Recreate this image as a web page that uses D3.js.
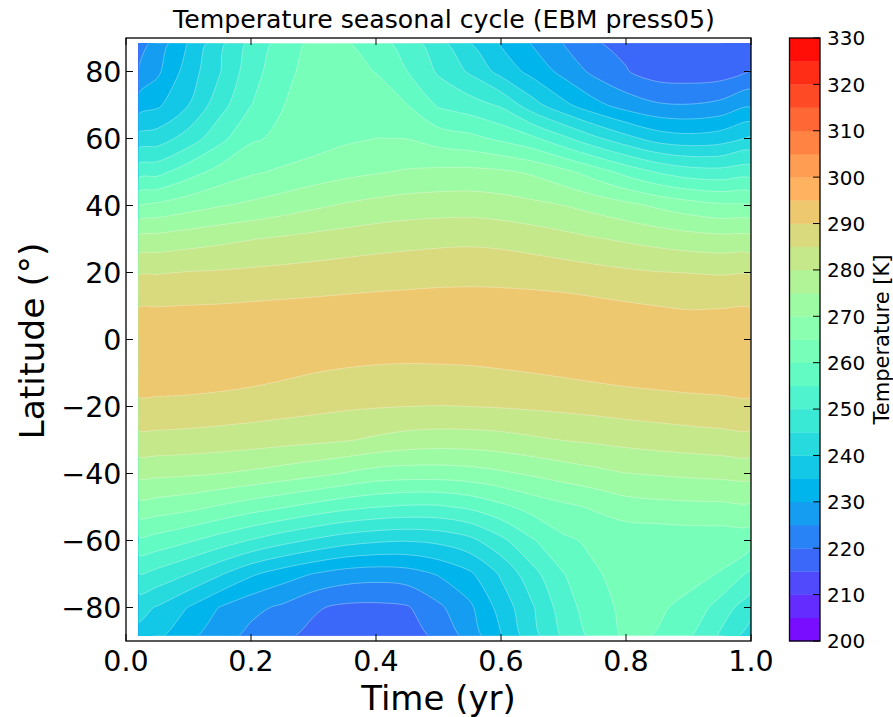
<!DOCTYPE html>
<html><head><meta charset="utf-8">
<script src="https://cdn.jsdelivr.net/npm/d3@7"></script>
<style>
body{margin:0;background:#fff}
svg{display:block}
text{font-family:"DejaVu Sans","Liberation Sans",sans-serif;fill:#000}
</style>
</head><body>
<svg id="chart" width="893" height="717"></svg>
<script>
// ---- data ----
const times = [0.02,0.05,0.10,0.15,0.20,0.25,0.30,0.35,0.40,0.45,0.50,0.55,0.60,0.65,0.70,0.75,0.80,0.85,0.90,0.95,1.00];
const lats = [88.5,80,70,60,50,40,30,20,10,0,-10,-20,-30,-40,-50,-60,-70,-80,-88.5];
// temperature [K] per latitude row, one value per time
const row88N = [222.5,226.8,235.2,243.6,251.4,256.9,261.2,260.6,257.1,252.7,246.8,240.0,234.5,229.6,224.8,220.3,218.8,217.3,216.8,216.9,217.5];
const row80N = [225.3,229.0,237.4,244.7,253.0,258.2,262.3,262.0,259.8,255.0,249.3,244.3,238.3,233.4,228.5,223.7,220.3,217.6,217.2,217.5,220.2];
const row70N = [232.5,234.1,240.0,248.0,254.9,259.8,262.8,263.2,263.2,260.1,254.4,252.3,249.3,242.0,236.3,231.5,227.8,225.6,225.2,226.3,229.1];
const row60N = [241.7,242.5,247.2,253.5,259.3,261.0,262.4,264.1,265.05,264.9,262.8,261.4,259.0,256.1,251.2,246.1,241.7,237.9,236.7,237.6,240.7];
const row50N = [252.9,253.4,257.9,261.8,264.3,265.8,267.3,268.6,269.6,270.5,271.1,271.3,270.8,269.3,266.4,262.6,258.4,254.7,252.3,251.7,252.4];
const row40N = [265.1,266.1,268.0,269.7,271.0,272.5,274.1,275.5,276.6,277.4,277.7,277.8,277.2,276.2,275.0,273.3,271.4,269.2,267.3,265.9,265.3];
const row30N = [276.4,276.8,277.8,278.8,279.8,280.7,281.5,282.2,282.9,283.4,283.8,284.0,283.6,282.7,281.6,280.4,279.3,278.2,277.2,276.6,276.4];
const row20N = [284.5,284.7,285.2,285.5,285.9,286.3,286.7,287.2,287.6,287.9,288.2,288.3,288.2,287.8,287.2,286.5,285.8,285.2,284.9,284.6,284.5];
const row10N = [289.8,289.9,290.1,290.3,290.6,290.9,291.2,291.5,291.8,292.0,292.2,292.3,292.2,292.1,291.9,291.3,290.6,290.0,289.6,289.7,289.7];
const row00  = [293.5,293.5,293.6,293.7,293.8,293.9,294.0,294.0,294.0,294.0,293.9,293.8,293.7,293.6,293.5,293.4,293.3,293.2,293.2,293.3,293.4];
const row10S = [293.3,293.3,293.0,292.5,291.8,290.9,290.0,289.3,288.7,288.4,288.6,288.9,289.5,290.0,290.6,291.3,291.9,292.4,292.8,293.1,293.4];
const row20S = [288.6,288.6,288.4,288.0,287.5,286.9,286.3,285.7,285.3,285.0,284.9,285.0,285.3,285.7,286.1,286.6,287.2,287.6,288.1,288.4,288.6];
const row30S = [283.5,283.5,283.2,282.8,282.3,281.7,281.1,280.4,279.2,278.1,277.6,277.7,278.2,279.2,280.1,280.8,281.5,282.2,282.7,283.2,283.4];
const row40S = [276.3,276.1,275.7,275.0,274.1,272.8,271.4,269.7,268.0,267.4,267.4,268.0,269.2,270.7,272.2,273.6,274.9,275.4,275.9,276.3,276.5];
const row50S = [268.1,267.6,266.4,264.4,262.3,260.4,258.3,256.4,255.1,254.3,254.3,255.9,258.8,261.8,263.9,265.6,267.7,268.4,268.7,268.8,268.9];
const row60S = [259.0,258.0,255.6,252.7,249.7,246.8,244.3,242.1,240.8,240.3,241.2,243.6,248.7,254.5,259.1,261.0,261.5,261.6,262.0,262.0,262.0];
const row70S = [249.9,248.4,245.0,240.6,235.8,232.5,229.8,227.8,227.1,227.8,230.4,234.1,240.7,248.3,254.8,259.5,261.6,261.2,261.2,259.8,253.8];
const row80S = [241.7,239.6,234.8,229.8,226.4,224.1,220.6,219.0,218.8,219.5,224.0,229.0,236.9,244.4,252.6,258.0,261.2,260.6,259.0,252.9,246.8];
const row88S = [238.5,236.0,231.2,226.9,223.6,220.8,218.8,217.6,217.3,218.0,220.9,226.8,234.8,242.9,250.8,256.5,260.8,259.8,255.6,249.4,242.0];

const levels = d3.range(200, 331, 5);          // contour levels 200..330
const xTicks = [0.0,0.2,0.4,0.6,0.8,1.0];
const yTicks = [-80,-60,-40,-20,0,20,40,60,80];
const cbTicks = d3.range(200, 331, 10);
const titleText = "Temperature seasonal cycle (EBM press05)";
const xLabel = "Time (yr)";
const yLabel = "Latitude (°)";
const cbLabel = "Temperature [K]";

// ---- layout ----
const grid = [row88N,row80N,row70N,row60N,row50N,row40N,row30N,row20N,row10N,row00,
              row10S,row20S,row30S,row40S,row50S,row60S,row70S,row80S,row88S];
const P = {left:126, right:751, top:38, bottom:641};
const CB = {left:789.5, right:820};
const svg = d3.select("#chart");
const x = d3.scaleLinear().domain([0,1]).range([P.left,P.right]);
const y = d3.scaleLinear().domain([-90,90]).range([P.bottom,P.top]);
const cbY = d3.scaleLinear().domain([200,330]).range([P.bottom,P.top]);

// matplotlib "rainbow" colormap (256-entry LUT), band colour from layer midpoint
function rainbow(v){
  const c = t => Math.max(0, Math.min(1, t));
  return d3.rgb(255*c(Math.abs(2*v-0.5)), 255*c(Math.sin(Math.PI*v)), 255*c(Math.cos(Math.PI*v/2)));
}
function bandColor(lo){
  const xn = (lo + 2.5 - 200) / 130;
  const i = Math.max(0, Math.min(255, Math.floor(xn*256)));
  return rainbow(i/255).toString();
}

// ---- filled contours ----
const nx = times.length, ny = lats.length;
const values = grid.flat();
const thr = levels.slice(0, -1);
const cont = d3.contours().size([nx, ny]).thresholds(thr)(values);
const ti = d3.scaleLinear().domain(d3.range(nx)).range(times).clamp(true);
const li = d3.scaleLinear().domain(d3.range(ny)).range(lats).clamp(true);
const lineGen = d3.line().curve(d3.curveCatmullRomClosed.alpha(0.5));
function ringPath(ring){
  const pts = [];
  for (const [px, py] of ring) {
    const p = [x(ti(px - 0.5)), y(li(py - 0.5))];
    const q = pts[pts.length - 1];
    if (!q || Math.hypot(q[0]-p[0], q[1]-p[1]) > 0.05) pts.push(p);
  }
  if (pts.length > 1) {
    const f = pts[0], l = pts[pts.length - 1];
    if (Math.hypot(f[0]-l[0], f[1]-l[1]) < 0.05) pts.pop();
  }
  return pts.length > 2 ? lineGen(pts) : "";
}
const contourPath = c => c.coordinates.map(poly => poly.map(ringPath).join("")).join("");

const x0 = x(times[0]), x1 = x(times[nx-1]), y0 = y(lats[0]), y1 = y(lats[ny-1]);
const defs = svg.append("defs");
defs.append("clipPath").attr("id","data").append("rect")
  .attr("x", x0).attr("y", y0).attr("width", x1-x0).attr("height", y1-y0);
defs.append("clipPath").attr("id","inner").append("rect")
  .attr("x", x0+0.8).attr("y", y0+0.8).attr("width", x1-x0-1.6).attr("height", y1-y0-1.6);

const g = svg.append("g").attr("clip-path","url(#data)");
g.selectAll("path.band").data(cont).join("path")
  .attr("class","band")
  .attr("d", contourPath)
  .attr("fill-rule","evenodd")
  .attr("fill", d => bandColor(d.value))
  .attr("stroke", d => bandColor(d.value))
  .attr("stroke-width", 0.3);

// faint seams between bands (as antialiasing seams in the original)
svg.append("g").attr("clip-path","url(#inner)")
  .selectAll("path").data(cont.slice(1)).join("path")
  .attr("d", contourPath).attr("fill","none")
  .attr("stroke","rgba(255,255,255,0.45)").attr("stroke-width",0.7);

// ---- frame & ticks ----
const ax = svg.append("g").attr("stroke","#000");
xTicks.forEach(t => {
  ax.append("line").attr("x1",x(t)).attr("x2",x(t)).attr("y1",P.bottom).attr("y2",P.bottom-7).attr("stroke-width",1);
  ax.append("line").attr("x1",x(t)).attr("x2",x(t)).attr("y1",P.top).attr("y2",P.top+7).attr("stroke-width",1);
});
yTicks.forEach(v => {
  ax.append("line").attr("x1",P.left).attr("x2",P.left+7).attr("y1",y(v)).attr("y2",y(v)).attr("stroke-width",1);
  ax.append("line").attr("x1",P.right).attr("x2",P.right-7).attr("y1",y(v)).attr("y2",y(v)).attr("stroke-width",1);
});
svg.append("rect").attr("x",P.left).attr("y",P.top).attr("width",P.right-P.left).attr("height",P.bottom-P.top)
  .attr("fill","none").attr("stroke","#000").attr("stroke-width",1.3);

const fmtX = d3.format(".1f");
svg.append("g").selectAll("text").data(xTicks).join("text")
  .attr("x", d => x(d)).attr("y", 671).attr("text-anchor","middle")
  .style("font-size","28.5px").text(d => fmtX(d));
svg.append("g").selectAll("text").data(yTicks).join("text")
  .attr("x", 121.5).attr("y", d => y(d) + 10.5).attr("text-anchor","end")
  .style("font-size","28.5px").text(d => (d < 0 ? "\u2212" + Math.abs(d) : String(d)));

svg.append("text").attr("x",444).attr("y",28).attr("text-anchor","middle")
  .style("font-size","25.2px").text(titleText);
svg.append("text").attr("x",438.5).attr("y",709.5).attr("text-anchor","middle")
  .style("font-size","34px").text(xLabel);
svg.append("text").attr("transform","translate(43.5,341) rotate(-90)").attr("text-anchor","middle")
  .style("font-size","34.5px").text(yLabel);

// ---- colorbar ----
const cb = svg.append("g");
cb.selectAll("rect").data(thr).join("rect")
  .attr("x", CB.left).attr("width", CB.right-CB.left)
  .attr("y", d => cbY(d+5)).attr("height", d => cbY(d) - cbY(d+5) + 0.3)
  .attr("fill", d => bandColor(d));
cb.append("rect").attr("x",CB.left).attr("y",P.top).attr("width",CB.right-CB.left).attr("height",P.bottom-P.top)
  .attr("fill","none").attr("stroke","#000").attr("stroke-width",1.3);
cb.selectAll("line").data(cbTicks).join("line")
  .attr("x1", CB.right-7).attr("x2", CB.right).attr("y1", d => cbY(d)).attr("y2", d => cbY(d))
  .attr("stroke","#000").attr("stroke-width",1);
cb.selectAll("text").data(cbTicks).join("text")
  .attr("x", 827).attr("y", d => cbY(d) + 7.4)
  .style("font-size","20px").text(d => d);
svg.append("text").attr("transform","translate(888.5,339.5) rotate(-90)").attr("text-anchor","middle")
  .style("font-size","21px").text(cbLabel);
</script>
</body></html>
